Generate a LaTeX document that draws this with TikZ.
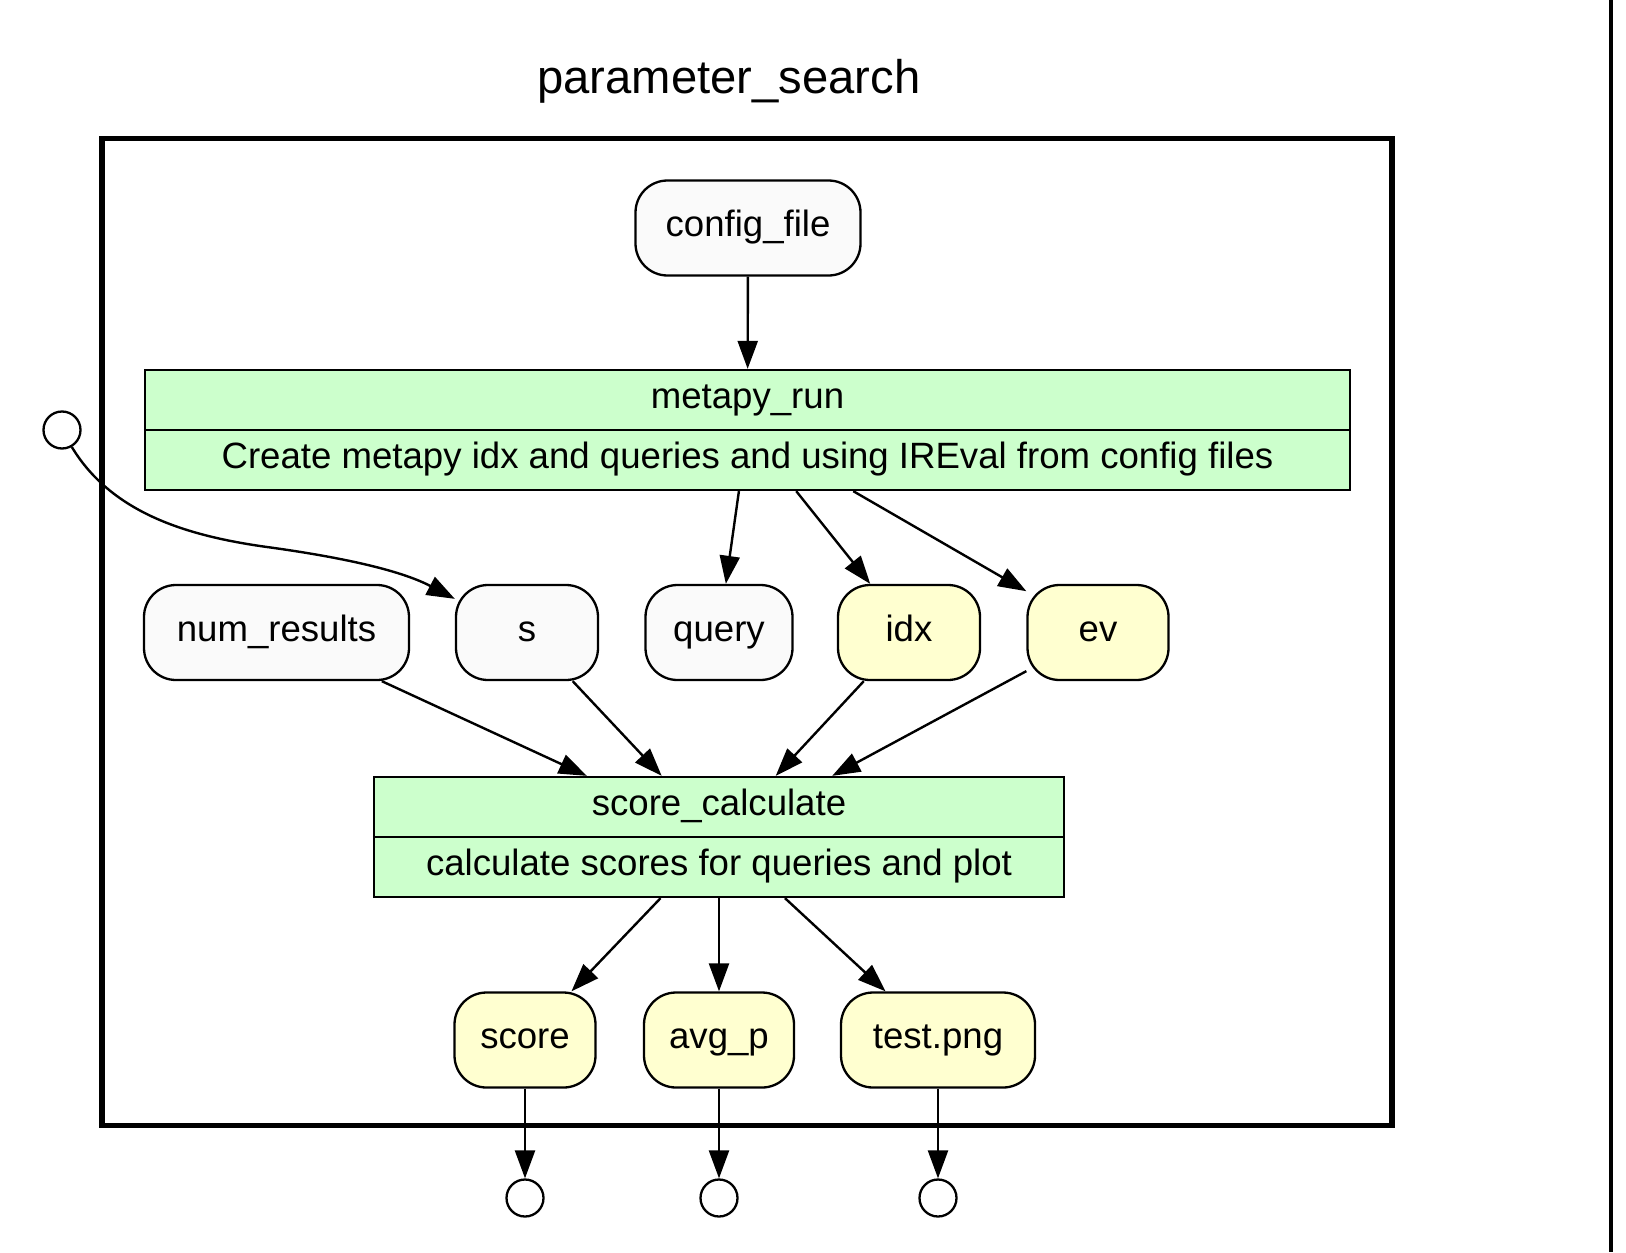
\documentclass[tikz,border=0pt]{standalone}
\usepackage{fontspec}
\setmainfont{Liberation Sans}
\usetikzlibrary{arrows.meta}
\definecolor{procfill}{HTML}{CCFFCC}
\definecolor{infill}{HTML}{FAFAFA}
\definecolor{outfill}{HTML}{FFFFD0}
\begin{document}
\begin{tikzpicture}[x=0.5pt,y=-0.5pt,
  txt/.style={font=\fontsize{18.3pt}{21pt}\selectfont, text height=13.5pt, text depth=5pt, inner sep=0pt},
  datanode/.style={txt, draw, line width=1.15pt, rounded corners=16pt, minimum height=47.5pt},
  innode/.style={datanode, fill=infill},
  outnode/.style={datanode, fill=outfill},
  procbox/.style={draw, line width=1.15pt, fill=procfill, minimum height=60pt, inner sep=0pt},
  port/.style={draw, circle, line width=1.15pt, fill=white, minimum size=18.5pt, inner sep=0pt},
  arr/.style={line width=1.2pt, -{Triangle[length=14pt,width=10pt]}},
  cluster/.style={draw, line width=2.6pt},
]
\useasboundingbox (0,0) rectangle (1626,1252);

% title and cluster frame
\node[font=\fontsize{23.6pt}{27pt}\selectfont, anchor=base, inner sep=0pt] (title) at (729,94) {parameter\_search};
\draw[cluster] (102,138.5) rectangle (1392,1125.5);
\draw[line width=1.6pt] (1611,0) -- (1611,1252);

% top input
\node[innode, minimum width=112.5pt] (config) at (748,228) {config\_file};

% process metapy_run
\node[procbox, minimum width=602.5pt] (metapy) at (747.5,430) {};
\draw[line width=1.15pt] (metapy.west) -- (metapy.east);
\node[txt] (metapyT) at (747.5,400) {metapy\_run};
\node[txt] (metapyB) at (747.5,460) {Create metapy idx and queries and using IREval from config files};

% external input port
\node[port] (inp) at (62,430) {};

% middle row
\node[innode, minimum width=132.5pt] (num) at (276.5,632.5) {num\_results};
\node[innode, minimum width=71pt] (s) at (527,632.5) {s};
\node[innode, minimum width=73.5pt] (query) at (719,632.5) {query};
\node[outnode, minimum width=71pt] (idx) at (909,632.5) {idx};
\node[outnode, minimum width=70.5pt] (ev) at (1098,632.5) {ev};

% process score_calculate
\node[procbox, minimum width=345pt] (scalc) at (719,837) {};
\draw[line width=1.15pt] (scalc.west) -- (scalc.east);
\node[txt] (scalcT) at (719,807) {score\_calculate};
\node[txt] (scalcB) at (719,867) {calculate scores for queries and plot};

% outputs
\node[outnode, minimum width=70.5pt] (score) at (525,1040) {score};
\node[outnode, minimum width=75pt] (avgp) at (719,1040) {avg\_p};
\node[outnode, minimum width=97pt] (test) at (938,1040) {test.png};

\node[port] (o1) at (525,1198) {};
\node[port] (o2) at (719,1198) {};
\node[port] (o3) at (938,1198) {};

% edges
\draw[arr] (config) -- (metapy);
\draw[arr] (metapy) -- (query);
\draw[arr] (metapy) -- (idx);
\draw[arr] (metapy) -- (ev);
\draw[arr] (inp.-60) .. controls (110,510) and (180,535) .. (267,547)
                     .. controls (340,557) and (400,570) .. (s.155);
\draw[arr] (num) -- (scalc);
\draw[arr] (s) -- (scalc);
\draw[arr] (idx) -- (scalc);
\draw[arr] (ev) -- (scalc);
\draw[arr] (scalc) -- (score);
\draw[arr] (scalc.south -| avgp) -- (avgp);
\draw[arr] (scalc) -- (test);
\draw[arr] (score) -- (o1);
\draw[arr] (avgp) -- (o2);
\draw[arr] (test) -- (o3);
\end{tikzpicture}
\end{document}
